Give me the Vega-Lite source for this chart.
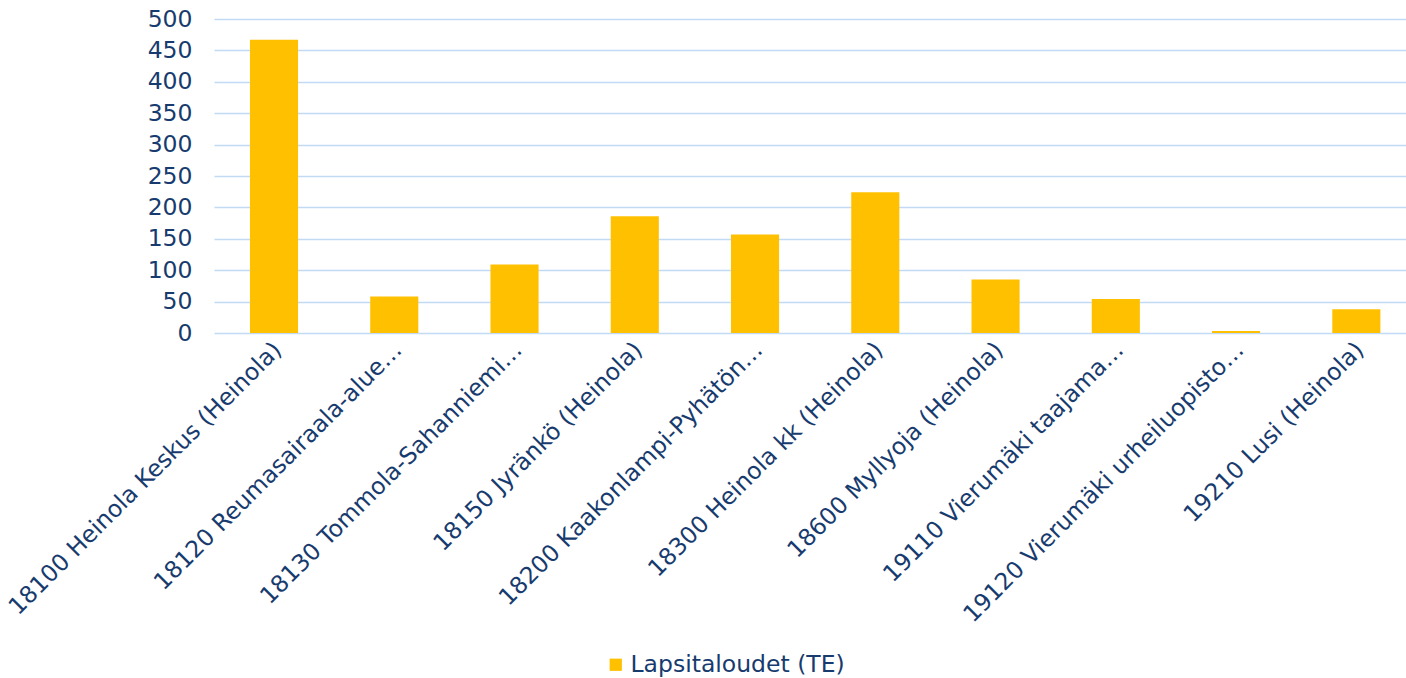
{
  "$schema": "https://vega.github.io/schema/vega-lite/v6.json",
  "autosize": {"type": "none"},
  "width": 1192,
  "height": 314,
  "padding": {"left": 214, "top": 19, "right": 0, "bottom": 345},
  "background": "white",
  "config": {
    "view": {"stroke": null},
    "font": "DejaVu Sans",
    "axis": {"labelFont": "DejaVu Sans", "labelColor": "#173B6E", "labelFontSize": 23}
  },
  "data": {
    "values": [
      {"alue": "18100 Heinola Keskus (Heinola)", "arvo": 467, "sarja": "Lapsitaloudet (TE)"},
      {"alue": "18120 Reumasairaala-alue…", "arvo": 58, "sarja": "Lapsitaloudet (TE)"},
      {"alue": "18130 Tommola-Sahanniemi…", "arvo": 109, "sarja": "Lapsitaloudet (TE)"},
      {"alue": "18150 Jyränkö (Heinola)", "arvo": 186, "sarja": "Lapsitaloudet (TE)"},
      {"alue": "18200 Kaakonlampi-Pyhätön…", "arvo": 157, "sarja": "Lapsitaloudet (TE)"},
      {"alue": "18300 Heinola kk (Heinola)", "arvo": 224, "sarja": "Lapsitaloudet (TE)"},
      {"alue": "18600 Myllyoja (Heinola)", "arvo": 85, "sarja": "Lapsitaloudet (TE)"},
      {"alue": "19110 Vierumäki taajama…", "arvo": 54, "sarja": "Lapsitaloudet (TE)"},
      {"alue": "19120 Vierumäki urheiluopisto…", "arvo": 3, "sarja": "Lapsitaloudet (TE)"},
      {"alue": "19210 Lusi (Heinola)", "arvo": 38, "sarja": "Lapsitaloudet (TE)"}
    ]
  },
  "mark": {"type": "bar", "color": "#FFC000"},
  "encoding": {
    "x": {
      "field": "alue",
      "type": "nominal",
      "sort": null,
      "scale": {"paddingInner": 0.6, "paddingOuter": 0.256, "align": 0.584},
      "axis": {
        "title": null,
        "labelAngle": -45,
        "labelAlign": "right",
        "labelBaseline": "middle",
        "labelPadding": 13,
        "labelOffset": 4,
        "labelLimit": 0,
        "labelFontSize": 23.5,
        "ticks": false,
        "domain": false,
        "grid": false
      }
    },
    "y": {
      "field": "arvo",
      "type": "quantitative",
      "scale": {"domain": [0, 500], "nice": false},
      "axis": {
        "title": null,
        "values": [0, 50, 100, 150, 200, 250, 300, 350, 400, 450, 500],
        "ticks": false,
        "domain": false,
        "grid": true,
        "gridColor": "#C3DAF5",
        "gridWidth": 1.6,
        "labelPadding": 22,
        "labelFontSize": 23.5,
        "labelBaseline": "middle"
      }
    },
    "color": {
      "field": "sarja",
      "type": "nominal",
      "scale": {"range": ["#FFC000"]},
      "legend": {
        "title": null,
        "orient": "none",
        "legendX": 390,
        "legendY": 634,
        "symbolType": "square",
        "symbolSize": 150,
        "symbolStrokeWidth": 0,
        "labelFont": "DejaVu Sans",
        "labelFontSize": 23.5,
        "labelColor": "#173B6E",
        "labelOffset": 3,
        "labelLimit": 0
      }
    }
  }
}
